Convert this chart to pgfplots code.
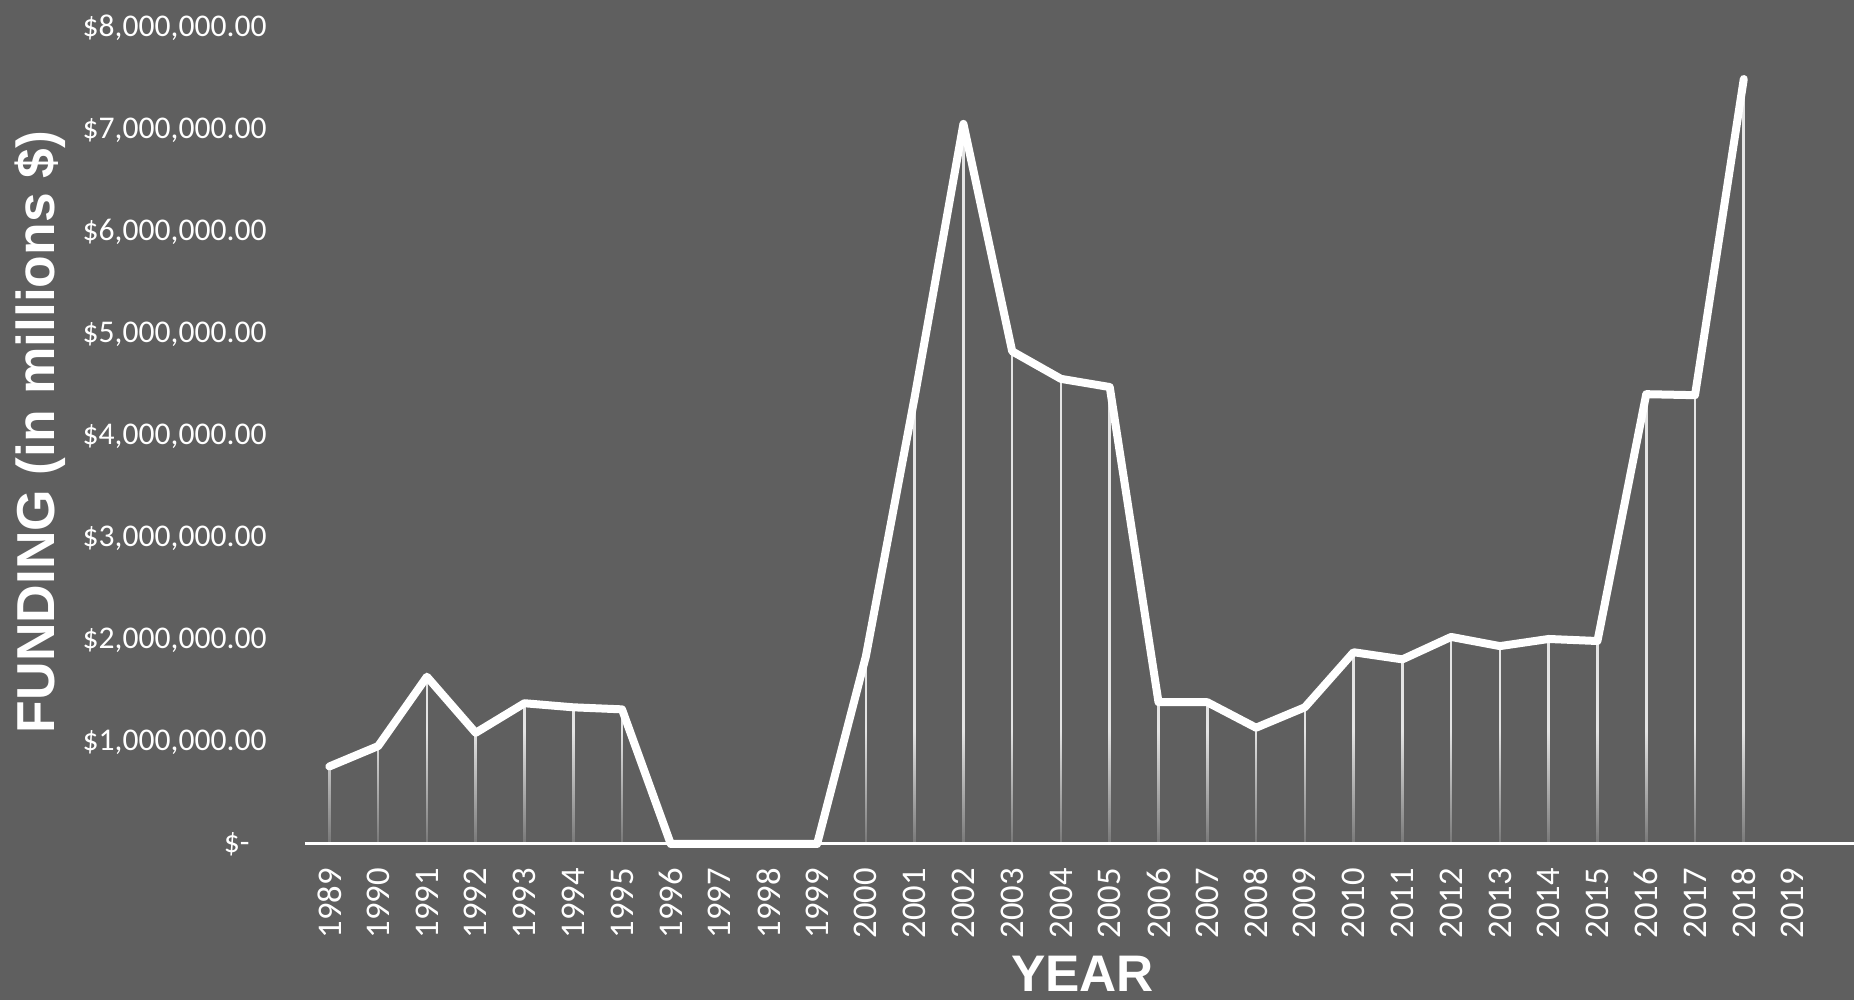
\documentclass[border=0pt]{standalone}
\usepackage{pgfplots}
\pgfplotsset{compat=1.18}
\usepackage{fontspec}
\setmainfont{Carlito}
\newfontfamily\titlefont{Liberation Sans}
\usetikzlibrary{fadings}
\definecolor{bg}{RGB}{95,95,95}
\definecolor{comb}{RGB}{228,228,228}

\begin{document}
\begin{tikzpicture}
\useasboundingbox (0,0) rectangle (927pt,500pt);
\clip (0,0) rectangle (927pt,500pt);
\fill[bg] (0,0) rectangle (927pt,500pt);
\begin{axis}[
  at={(152.5pt,78pt)}, anchor=south west,
  scale only axis, width=774.5pt, height=408pt,
  xmin=1988.5, xmax=2020.26, ymin=0, ymax=8000000,
  scaled y ticks=false,
  axis on top,
  axis lines*=left,
  x axis line style={white, line width=1.5pt},
  y axis line style={draw=none},
  major tick length=0pt,
  xtick={1989,1990,...,2019},
  xticklabels={1989,1990,1991,1992,1993,1994,1995,1996,1997,1998,1999,2000,2001,2002,2003,2004,2005,2006,2007,2008,2009,2010,2011,2012,2013,2014,2015,2016,2017,2018,2019},
  xticklabel style={rotate=90, anchor=east, inner sep=0pt, text=white, font=\fontsize{17.3pt}{20pt}\selectfont},
  xticklabel shift=12pt,
  ytick={0,1000000,2000000,3000000,4000000,5000000,6000000,7000000,8000000},
  yticklabels={{\$-\hspace*{8.5pt}},{\$1,000,000.00},{\$2,000,000.00},{\$3,000,000.00},{\$4,000,000.00},{\$5,000,000.00},{\$6,000,000.00},{\$7,000,000.00},{\$8,000,000.00}},
  yticklabel style={anchor=east, inner sep=0pt, text=white, font=\fontsize{15.8pt}{18pt}\selectfont},
  yticklabel shift=19pt,
  grid=none,
  clip=false,
  xlabel={YEAR},
  xlabel style={at={(axis description cs:0.502,-0.181)}, anchor=base, inner sep=0pt, text depth=0pt, text=white, font=\titlefont\bfseries\fontsize{25.7pt}{30pt}\selectfont},
  ylabel={FUNDING (in millions \$)},
  ylabel style={at={(axis description cs:-0.162,0.505)}, rotate=0, anchor=base, inner sep=0pt, text=white, font=\titlefont\bfseries\fontsize{26.7pt}{31pt}\selectfont},
]
\addplot[ycomb, draw=comb, line width=1.3pt] coordinates {
(1989,760000) (1990,960000) (1991,1640000) (1992,1090000) (1993,1380000) (1994,1340000) (1995,1320000)
(2000,1840000) (2001,4380000) (2002,7060000) (2003,4830000) (2004,4560000) (2005,4480000)
(2006,1390000) (2007,1390000) (2008,1140000) (2009,1340000) (2010,1880000) (2011,1810000)
(2012,2030000) (2013,1940000) (2014,2010000) (2015,1990000) (2016,4410000) (2017,4400000) (2018,7500000)
};
\fill[bg, fill opacity=0.8, path fading=north] (axis cs:1988.6,16000) rectangle (axis cs:2019.5,1100000);
\addplot[white, line width=4pt, line join=round, line cap=round, mark=none] coordinates {
(1989,760000) (1990,960000) (1991,1640000) (1992,1090000) (1993,1380000) (1994,1340000) (1995,1320000)
(1996,0) (1997,0) (1998,0) (1999,0)
(2000,1840000) (2001,4380000) (2002,7060000) (2003,4830000) (2004,4560000) (2005,4480000)
(2006,1390000) (2007,1390000) (2008,1140000) (2009,1340000) (2010,1880000) (2011,1810000)
(2012,2030000) (2013,1940000) (2014,2010000) (2015,1990000) (2016,4410000) (2017,4400000) (2018,7500000)
};
\end{axis}
\end{tikzpicture}
\end{document}
